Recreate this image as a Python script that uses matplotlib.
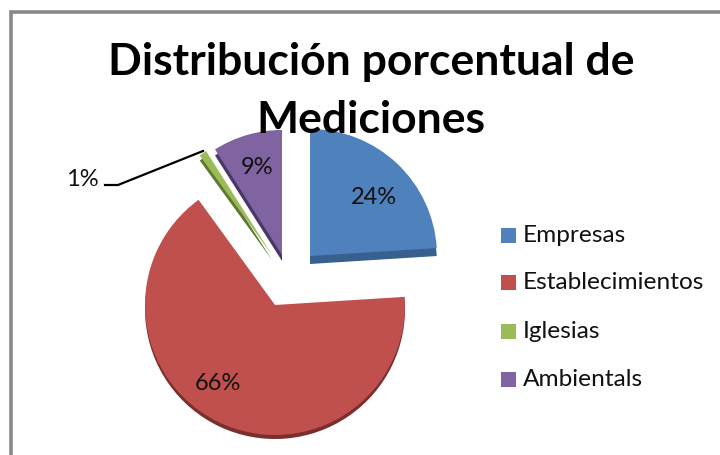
import matplotlib
matplotlib.use("Agg")
import matplotlib.pyplot as plt
from matplotlib.patches import Rectangle, Wedge

categories = ["Empresas", "Establecimientos", "Iglesias", "Ambientals"]
values = [24, 66, 1, 9]
title = "Distribución porcentual de\nMediciones"
colors = ["#4F81BD", "#C0504D", "#9BBB59", "#8064A2"]
dark = ["#38608F", "#7A2F2D", "#5F7A30", "#4A3668"]

# per-slice apex (pixel coordinates) and radius
apex = [(310, 256), (275, 305), (272, 255), (282, 255)]
radii = [127, 130, 123, 125]
depth = [8, 4, 5, 6]
label_pos = [(374, 198), (218, 384), (82, 179), (257, 167)]
legend_y = [235, 282.5, 331, 379]

plt.rcParams["font.family"] = ["Lato", "DejaVu Sans"]
fig = plt.figure(figsize=(7.2, 4.55), dpi=100)
ax = fig.add_axes([0, 0, 1, 1])
H = 455

wedges, _ = ax.pie(values, colors=colors, startangle=90, counterclock=False,
                   wedgeprops=dict(linewidth=0))
for w, (px, py), r, d, dk in zip(wedges, apex, radii, depth, dark):
    w.set_center((px, H - py))
    w.set_radius(r)
    w.set_zorder(3)
    ax.add_patch(Wedge((px, H - py - d), r, w.theta1, w.theta2,
                       facecolor=dk, linewidth=0, zorder=2))

ax.set_xlim(0, 720)
ax.set_ylim(0, H)
ax.set_aspect("auto")
ax.axis("off")

# chart frame
ax.plot([10.5, 10.5, 720], [0, H - 11.5, H - 11.5], color="#888888", lw=2.6, zorder=1,
        solid_capstyle="butt", solid_joinstyle="miter")

ax.text(371, H - 62, title.split("\n")[0], ha="center", va="center", fontsize=32,
        fontweight="bold", color="black", zorder=6)
ax.text(371, H - 120, title.split("\n")[1], ha="center", va="center", fontsize=32,
        fontweight="bold", color="black", zorder=6)

for v, (px, py) in zip(values, label_pos):
    ax.text(px, H - py, f"{v}%", ha="center", va="center", fontsize=17,
            color="#111111", zorder=6)

# leader line for the small slice
ax.plot([105, 118, 203], [H - 185, H - 185, H - 151], color="black", lw=1.6, zorder=5)

for name, c, y in zip(categories, colors, legend_y):
    ax.add_patch(Rectangle((501, H - y - 7.5), 15, 15, facecolor=c, linewidth=0, zorder=4))
    ax.text(523, H - y, name, ha="left", va="center", fontsize=17.6, color="#111111", zorder=6)

fig.savefig("out.png", dpi=100, facecolor="white")
